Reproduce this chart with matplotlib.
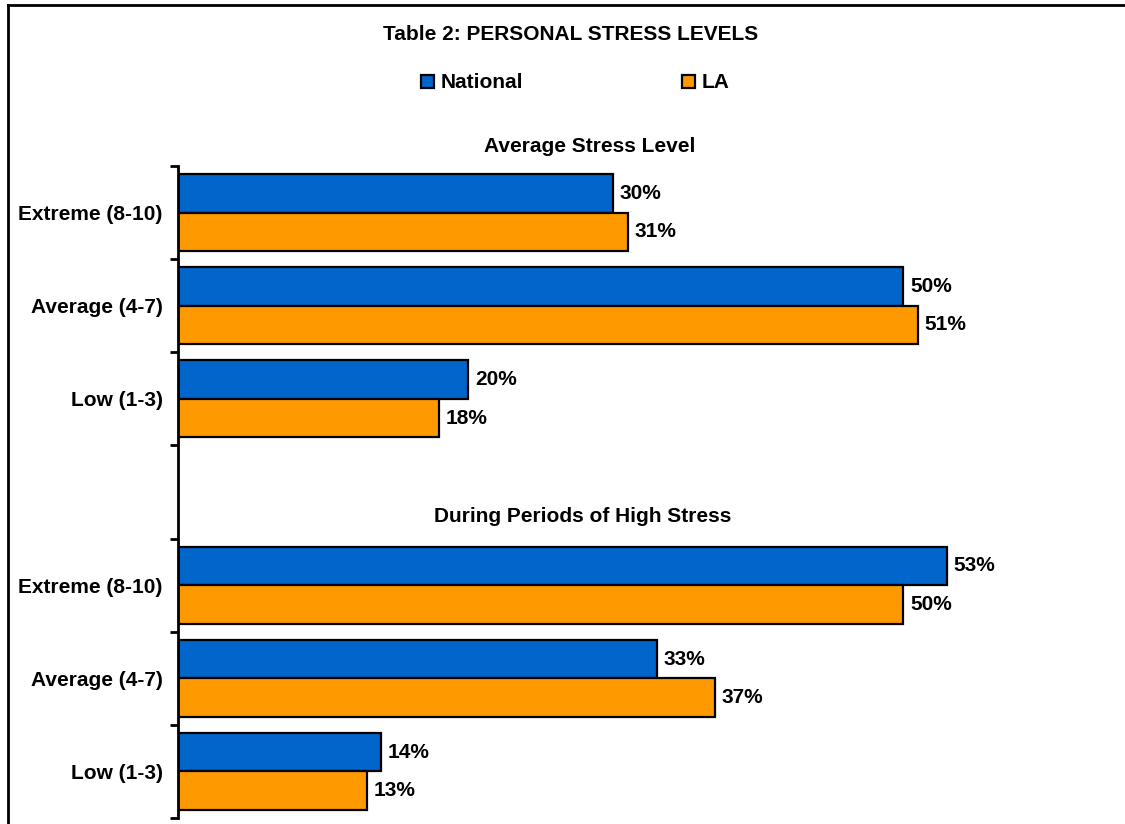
import numpy as np
import matplotlib.pyplot as plt
from matplotlib.lines import Line2D

plt.rcParams['font.family'] = ['Liberation Sans', 'DejaVu Sans']
plt.rcParams['font.weight'] = 'bold'

levels = ["Extreme (8-10)", "Average (4-7)", "Low (1-3)"]
series_names = ["National", "LA"]
average_national = [30, 50, 20]
average_la = [31, 51, 18]
high_national = [53, 33, 14]
high_la = [50, 37, 13]

BLUE = '#0066CC'
ORANGE = '#FF9900'
FS = 15

W, H = 1125, 824
fig = plt.figure(figsize=(W / 100, H / 100), dpi=100)
ax = fig.add_axes([178 / W, 6 / H, 942.5 / W, 652 / H])

# two blocks of three rows, with one empty slot between them
slots_top = np.arange(3)
slots_bottom = np.arange(3) + 4
bh = 0.414

for slots, nat, la in [(slots_top, average_national, average_la),
                       (slots_bottom, high_national, high_la)]:
    b1 = ax.barh(slots - bh / 2, nat, height=bh, color=BLUE,
                 edgecolor='black', linewidth=1.6)
    b2 = ax.barh(slots + bh / 2, la, height=bh, color=ORANGE,
                 edgecolor='black', linewidth=1.6)
    for bars, vals in [(b1, nat), (b2, la)]:
        for rect, v in zip(bars, vals):
            ax.annotate(f"{v}%", (v, rect.get_y() + rect.get_height() / 2),
                        xytext=(7, 0), textcoords='offset pixels',
                        va='center', ha='left', fontsize=FS, fontweight='bold')

ax.set_xlim(0, 65)
ax.set_ylim(6.5, -0.5)

ax.set_yticks(np.arange(-0.5, 7, 1))
ax.set_yticklabels([])
ax.set_yticks(np.concatenate([slots_top, slots_bottom]), minor=True)
ax.set_yticklabels(levels + levels, minor=True, fontsize=FS, fontweight='bold')
ax.tick_params(axis='y', which='major', direction='out', length=6, width=2)
ax.tick_params(axis='y', which='minor', length=0, pad=11)
ax.set_xticks([])
for s in ['top', 'right', 'bottom']:
    ax.spines[s].set_visible(False)
ax.spines['left'].set_linewidth(2)

fig.text(571 / W, 1 - 34 / H, "Table 2: PERSONAL STRESS LEVELS", ha='center', va='center',
         fontsize=FS, fontweight='bold')
fig.text(590 / W, 1 - 146 / H, "Average Stress Level", ha='center', va='center',
         fontsize=FS, fontweight='bold')
fig.text(583 / W, 1 - 517 / H, "During Periods of High Stress", ha='center', va='center',
         fontsize=FS, fontweight='bold')

# legend entries placed by hand, spread apart
for name, color, x in [(series_names[0], BLUE, 421), (series_names[1], ORANGE, 682)]:
    fig.patches.append(plt.Rectangle((x / W, 1 - 88 / H), 13 / W, 13 / H,
                                     transform=fig.transFigure, facecolor=color,
                                     edgecolor='black', linewidth=1.6))
    fig.text((x + 20) / W, 1 - 83 / H, name, ha='left', va='center',
             fontsize=FS, fontweight='bold')

# frame lines along the left and top edge
fig.add_artist(Line2D([7.5 / W, 7.5 / W], [0, 1 - 5 / H], color='black', linewidth=2))
fig.add_artist(Line2D([7.5 / W, 1], [1 - 5 / H, 1 - 5 / H], color='black', linewidth=2))

fig.savefig('out.png', dpi=100)
